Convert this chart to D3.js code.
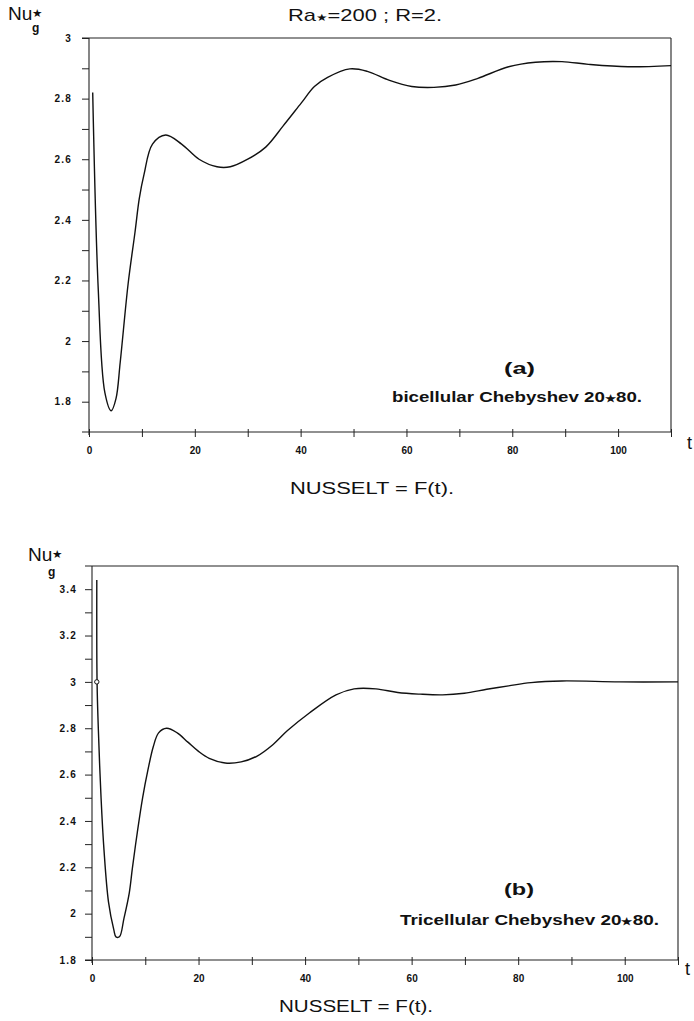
<!DOCTYPE html>
<html lang="en">
<head>
<meta charset="utf-8">
<title>Nusselt = F(t)</title>
<script src="https://d3js.org/d3.v7.min.js"></script>
<style>
  body { margin: 0; background: #fff; }
  text { font-family: "Liberation Sans", Arial, sans-serif; fill: #111; }
</style>
</head>
<body>
<script>
// panel (a) : bicellular
var tA  = [0.7, 1.75, 3.0, 4.2, 5.1, 5.9, 7.4, 8.7, 9.5, 10.4, 12.0, 14.5, 17.5, 20.8, 24.2, 26.7, 30.0, 33.4, 36.7, 40.1, 42.6, 45.1, 49.3, 52.6, 56.8, 61, 65.2, 69.3, 73.5, 79.3, 84.4, 89.4, 94.4, 101.9, 110];
var nuA = [2.82, 2.17, 1.83, 1.77, 1.81, 1.93, 2.19, 2.36, 2.47, 2.55, 2.65, 2.68, 2.65, 2.60, 2.575, 2.575, 2.60, 2.64, 2.71, 2.785, 2.84, 2.87, 2.898, 2.89, 2.86, 2.84, 2.837, 2.845, 2.867, 2.905, 2.92, 2.922, 2.913, 2.905, 2.909];

// panel (b) : tricellular
var tB  = [0.9, 0.95, 1.2, 1.7, 2.25, 3.1, 4.1, 4.5, 5.15, 6.0, 7.0, 7.6, 8.5, 9.5, 10.5, 11.5, 12.5, 14, 16, 18, 20, 22, 25, 28, 31, 34, 36.7, 40.8, 45.8, 49.2, 53.3, 57.4, 61.6, 65.8, 69.9, 74.1, 78.2, 82.4, 88.2, 99, 110];
var nuB = [3.44, 3.0, 2.79, 2.5, 2.275, 2.05, 1.93, 1.90, 1.90, 1.98, 2.09, 2.20, 2.35, 2.5, 2.62, 2.72, 2.78, 2.80, 2.78, 2.74, 2.70, 2.67, 2.65, 2.655, 2.68, 2.73, 2.79, 2.866, 2.944, 2.97, 2.97, 2.954, 2.947, 2.944, 2.951, 2.968, 2.983, 2.997, 3.004, 3.0, 3.0];
var markB = [0.9, 3.0];

// ticks
var xTicks = [0, 10, 20, 30, 40, 50, 60, 70, 80, 90, 100, 110];
var xLabels = [0, 20, 40, 60, 80, 100];
var yTicksA = [1.8, 1.9, 2.0, 2.1, 2.2, 2.3, 2.4, 2.5, 2.6, 2.7, 2.8, 2.9, 3.0];
var yLabelsA = [1.8, 2.0, 2.2, 2.4, 2.6, 2.8, 3.0];
var yTicksB = [1.8, 1.9, 2.0, 2.1, 2.2, 2.3, 2.4, 2.5, 2.6, 2.7, 2.8, 2.9, 3.0, 3.1, 3.2, 3.3, 3.4];
var yLabelsB = [1.8, 2.0, 2.2, 2.4, 2.6, 2.8, 3.0, 3.2, 3.4];

var w = 694, h = 1021;
var svg = d3.select('body').append('svg')
    .attr('width', w)
    .attr('height', h);

function isLabel(list, v) {
    return list.some(function(l){ return Math.abs(l - v) < 1e-6; });
}

function panel(p) {
    var x = d3.scaleLinear().domain([0, 110]).range([p.left, p.right]);
    var y = d3.scaleLinear().domain(p.yDomain).range([p.bottom, p.top]);
    var g = svg.append('g');

    // frame: top and right lines, horizontal lines stick out a bit on the left
    g.append('line').attr('x1', p.left - 7).attr('x2', p.right)
        .attr('y1', p.top).attr('y2', p.top)
        .attr('stroke', '#222').attr('stroke-width', 1.1);
    g.append('line').attr('x1', p.right).attr('x2', p.right)
        .attr('y1', p.top).attr('y2', p.bottom)
        .attr('stroke', '#222').attr('stroke-width', 1.1);

    // y axis
    var yAxis = d3.axisLeft(y)
        .tickValues(p.yTicks)
        .tickSize(7)
        .tickPadding(p.yPad)
        .tickSizeOuter(0)
        .tickFormat(function(d){ return isLabel(p.yLabels, d) ? String(+d.toFixed(1)) : ''; });
    var ya = g.append('g').attr('transform', 'translate(' + p.left + ',0)').call(yAxis);
    ya.select('.domain').attr('d', 'M0,' + p.top + 'V' + (p.bottom + 3))
        .attr('stroke', '#222').attr('stroke-width', 1.1);
    ya.selectAll('.tick line').attr('stroke', '#222');
    ya.selectAll('.tick text')
        .style('font-family', '"Liberation Sans", Arial, sans-serif')
        .style('font-weight', 'bold')
        .style('font-size', '10px')
        .style('letter-spacing', '1.2px')
        .attr('fill', '#111');

    // x axis
    var xAxis = d3.axisBottom(x)
        .tickValues(xTicks)
        .tickSize(5)
        .tickPadding(10)
        .tickSizeOuter(0)
        .tickFormat(function(d){ return isLabel(xLabels, d) ? String(d) : ''; });
    var xa = g.append('g').attr('transform', 'translate(0,' + p.bottom + ')').call(xAxis);
    xa.select('.domain').attr('d', 'M' + (p.left - 7) + ',0H' + p.right)
        .attr('stroke', '#222').attr('stroke-width', 1.1);
    xa.selectAll('.tick line').attr('y1', -3).attr('stroke', '#222');
    xa.selectAll('.tick text')
        .style('font-family', '"Liberation Sans", Arial, sans-serif')
        .style('font-weight', 'bold')
        .style('font-size', '10px')
        .attr('fill', '#111');

    // curve
    var pts = p.t.map(function(t, i){ return [t, p.nu[i]]; });
    var line = d3.line()
        .x(function(d){ return x(d[0]); })
        .y(function(d){ return y(d[1]); })
        .curve(d3.curveCatmullRom.alpha(0.5));
    g.append('path').datum(pts)
        .attr('d', line)
        .attr('fill', 'none')
        .attr('stroke', '#111')
        .attr('stroke-width', 1.4);

    if (p.mark) {
        g.append('circle')
            .attr('cx', x(p.mark[0])).attr('cy', y(p.mark[1]))
            .attr('r', 2.2)
            .attr('fill', '#fff').attr('stroke', '#111').attr('stroke-width', 1);
    }
    return g;
}

panel({ left: 89, right: 671, top: 38, bottom: 432, yDomain: [1.7, 3.0],
        yTicks: yTicksA, yLabels: yLabelsA, yPad: 10, t: tA, nu: nuA });
panel({ left: 92, right: 678, top: 566, bottom: 960, yDomain: [1.8, 3.5],
        yTicks: yTicksB, yLabels: yLabelsB, yPad: 8, t: tB, nu: nuB, mark: markB });

// texts
function txt(s, x, y, size, weight, len, anchor) {
    var t = svg.append('text')
        .attr('x', x).attr('y', y)
        .attr('font-size', size)
        .attr('font-weight', weight || 'normal')
        .attr('text-anchor', anchor || 'start')
        .text(s);
    if (len) t.attr('textLength', len).attr('lengthAdjust', 'spacingAndGlyphs');
    return t;
}

// y-axis titles Nu*g
function nuLabel(x, y, gx, gy) {
    var t = svg.append('text').attr('x', x).attr('y', y).attr('font-size', 18)
        .attr('textLength', 35).attr('lengthAdjust', 'spacingAndGlyphs');
    t.append('tspan').text('Nu');
    t.append('tspan').attr('font-size', 11).attr('dy', -3).text('★');
    svg.append('text').attr('x', gx).attr('y', gy)
        .attr('font-size', 12).attr('font-weight', 'bold').text('g');
}
nuLabel(8, 20, 32, 32);
nuLabel(28, 561, 48, 576);

// title
var title = svg.append('text').attr('x', 288).attr('y', 21).attr('font-size', 17)
    .attr('textLength', 154).attr('lengthAdjust', 'spacingAndGlyphs');
title.append('tspan').text('Ra');
title.append('tspan').attr('font-size', 10).text('★');
title.append('tspan').text('=200 ; R=2.');

txt('NUSSELT = F(t).', 290, 494, 16, 'normal', 164);
txt('NUSSELT = F(t).', 279, 1012, 16, 'normal', 154);

txt('t', 687, 449, 18, 'normal');
txt('t', 685, 975, 18, 'normal');

// panel annotations
function note(label, x, y, len) {
    var t = svg.append('text').attr('x', x).attr('y', y)
        .attr('font-size', 15).attr('font-weight', 'bold')
        .attr('textLength', len).attr('lengthAdjust', 'spacingAndGlyphs');
    t.append('tspan').text(label + ' 20');
    t.append('tspan').attr('font-size', 10).text('★');
    t.append('tspan').text('80.');
}
txt('(a)', 504, 374, 16, 'bold', 31);
note('bicellular Chebyshev', 392, 402, 250);
txt('(b)', 504, 895, 16, 'bold', 30);
note('Tricellular Chebyshev', 400, 925, 259);
</script>
</body>
</html>
